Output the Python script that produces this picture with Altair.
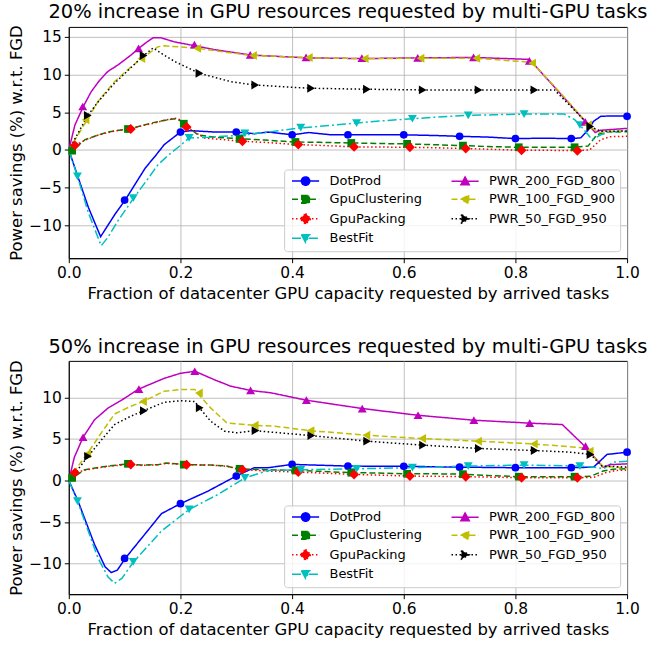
import altair as alt
import pandas as pd

# ---------------- series definitions ----------------
SERIES = ["DotProd", "GpuClustering", "GpuPacking", "BestFit",
          "PWR_200_FGD_800", "PWR_100_FGD_900", "PWR_50_FGD_950"]
COLORS = ["#0000ff", "#008000", "#ff0000", "#00bfbf", "#bf00bf", "#bfbf00", "#000000"]
DASHES = [[1, 0], [6, 3], [1.5, 2.5], [9, 3, 2, 3], [1, 0], [6, 3], [1.5, 2.5]]
SHAPES = ["circle", "square", "diamond", "triangle-down", "triangle-up", "triangle-left", "triangle-right"]
SIZES = [60, 60, 100, 80, 80, 80, 80]
LEG_PATHS = [
    "M-3.4,0H3.4M-1.05,0A1.05,1.05,0,1,1,1.05,0A1.05,1.05,0,1,1,-1.05,0Z",
    "M-3.4,0H3.4M-0.95,-0.95H0.95V0.95H-0.95Z",
    "M-3.4,0H3.4M0,-1.35L1.35,0L0,1.35L-1.35,0Z",
    "M-3.4,0H3.4M-1.05,-0.9H1.05L0,1.05Z",
    "M-3.4,0H3.4M-1.05,0.9H1.05L0,-1.05Z",
    "M-3.4,0H3.4M0.9,-1.05V1.05L-1.05,0Z",
    "M-3.4,0H3.4M-0.9,-1.05V1.05L1.05,0Z",
]

X_TICKS = [0.0, 0.2, 0.4, 0.6, 0.8, 1.0]
TOP_Y_TICKS = [-10, -5, 0, 5, 10, 15]
BOT_Y_TICKS = [-10, -5, 0, 5, 10]
TOP_Y_DOMAIN = [-14.35, 16.3]
BOT_Y_DOMAIN = [-13.7, 14.4]
TOP_TITLE = "20% increase in GPU resources requested by multi-GPU tasks"
BOT_TITLE = "50% increase in GPU resources requested by multi-GPU tasks"
X_TITLE = "Fraction of datacenter GPU capacity requested by arrived tasks"
Y_TITLE = "Power savings (%) w.r.t. FGD"

# ---------------- top panel: curves ----------------
T_DOT_X = [0, 0.017, 0.035, 0.057, 0.07, 0.083, 0.101, 0.12, 0.137, 0.155, 0.171, 0.2, 0.219, 0.261, 0.3, 0.333, 0.357, 0.4, 0.43, 0.47, 0.5, 0.548, 0.6, 0.66, 0.7, 0.75, 0.8, 0.85, 0.9, 0.917, 0.93, 0.94, 0.953, 0.97, 1.0]
T_DOT_Y = [0, -3.7, -7.6, -11.5, -10.0, -8.5, -6.65, -4.4, -2.4, -0.8, 0.7, 2.37, 2.55, 2.37, 2.37, 2.15, 2.37, 2.0, 2.3, 2.0, 2.0, 2.0, 2.0, 1.9, 1.8, 1.7, 1.5, 1.55, 1.5, 1.6, 2.6, 3.8, 4.45, 4.5, 4.5]
T_GCL_X = [0, 0.006, 0.029, 0.05, 0.07, 0.09, 0.106, 0.13, 0.148, 0.17, 0.19, 0.203, 0.208, 0.231, 0.262, 0.302, 0.35, 0.405, 0.45, 0.505, 0.55, 0.604, 0.65, 0.705, 0.75, 0.805, 0.85, 0.905, 0.93, 0.946, 0.96, 1.0]
T_GCL_Y = [0, -0.1, 1.36, 1.9, 2.37, 2.6, 2.77, 3.2, 3.56, 3.9, 4.13, 3.77, 3.47, 2.0, 1.67, 1.5, 1.3, 1.05, 1.0, 0.92, 0.85, 0.8, 0.7, 0.57, 0.45, 0.35, 0.35, 0.35, 0.5, 2.0, 2.37, 2.4]
T_GPK_X = [0, 0.011, 0.03, 0.05, 0.07, 0.09, 0.112, 0.13, 0.15, 0.17, 0.19, 0.2, 0.211, 0.243, 0.27, 0.311, 0.35, 0.411, 0.45, 0.511, 0.55, 0.61, 0.65, 0.711, 0.75, 0.812, 0.85, 0.911, 0.933, 0.953, 0.97, 1.0]
T_GPK_Y = [0, 0.6, 1.3, 1.9, 2.3, 2.6, 2.77, 3.2, 3.5, 3.9, 4.2, 4.0, 3.03, 1.58, 1.4, 1.14, 1.0, 0.7, 0.6, 0.4, 0.38, 0.35, 0.3, 0.17, 0.1, -0.05, -0.05, -0.1, 0.0, 1.36, 1.75, 1.8]
T_BF_X = [0, 0.0155, 0.035, 0.058, 0.07, 0.088, 0.116, 0.14, 0.16, 0.18, 0.196, 0.2155, 0.25, 0.277, 0.314, 0.35, 0.414, 0.46, 0.515, 0.56, 0.616, 0.66, 0.714, 0.76, 0.8155, 0.8875, 0.906, 0.9155, 0.9375, 0.953, 0.97, 1.0]
T_BF_Y = [0, -3.5, -8.3, -12.7, -11.6, -9.4, -6.4, -4.0, -1.94, -0.6, 0.35, 1.58, 1.67, 1.8, 2.0, 2.3, 2.9, 3.2, 3.56, 3.85, 4.13, 4.35, 4.57, 4.65, 4.75, 4.75, 4.0, 3.3, 1.36, 2.0, 2.4, 2.5]
T_P200_X = [0, 0.011, 0.026, 0.04, 0.055, 0.07, 0.088, 0.112, 0.125, 0.14, 0.151, 0.165, 0.19, 0.226, 0.26, 0.326, 0.4256, 0.5277, 0.6287, 0.726, 0.8227, 0.83, 0.88, 0.943, 0.952, 1.0]
T_P200_Y = [0, 3.3, 5.75, 7.7, 9.2, 10.4, 11.25, 12.6, 13.45, 14.3, 14.86, 14.86, 14.3, 13.8, 13.3, 12.57, 12.2, 12.1, 12.2, 12.25, 12.0, 11.6, 7.5, 2.3, 2.6, 2.85]
T_P100_X = [0, 0.015, 0.033, 0.052, 0.082, 0.11, 0.13, 0.16, 0.171, 0.231, 0.32, 0.43, 0.53, 0.63, 0.73, 0.83, 0.88, 0.935, 0.95, 1.0]
T_P100_Y = [0, 1.8, 4.0, 6.4, 9.05, 10.9, 12.1, 13.67, 13.8, 13.45, 12.57, 12.2, 12.1, 12.15, 12.15, 11.6, 7.6, 3.0, 2.3, 2.6]
T_P50_X = [0, 0.015, 0.034, 0.055, 0.082, 0.11, 0.134, 0.151, 0.17, 0.19, 0.234, 0.29, 0.332, 0.4286, 0.53, 0.63, 0.735, 0.8335, 0.87, 0.9345, 0.953, 1.0]
T_P50_Y = [0, 2.0, 4.57, 6.6, 8.84, 10.8, 12.5, 13.5, 12.6, 11.7, 10.15, 9.05, 8.6, 8.18, 8.04, 7.95, 7.95, 7.95, 7.95, 3.1, 2.46, 2.5]

# ---------------- top panel: markers ----------------
T_DOT_MX = [0.1, 0.2, 0.3, 0.4, 0.5, 0.6, 0.7, 0.8, 0.9, 1.0]
T_DOT_MY = [-6.65, 2.37, 2.37, 2.0, 2.0, 2.0, 1.8, 1.5, 1.5, 4.45]
T_GCL_MX = [0.006, 0.106, 0.206, 0.306, 0.406, 0.506, 0.606, 0.706, 0.806, 0.906]
T_GCL_MY = [-0.1, 2.77, 3.47, 1.45, 1.05, 0.92, 0.8, 0.57, 0.35, 0.35]
T_GPK_MX = [0.011, 0.111, 0.211, 0.311, 0.411, 0.511, 0.611, 0.711, 0.811, 0.911]
T_GPK_MY = [0.6, 2.77, 3.03, 1.14, 0.7, 0.4, 0.35, 0.17, -0.05, -0.1]
T_BF_MX = [0.0155, 0.1155, 0.2155, 0.3155, 0.4155, 0.5155, 0.6155, 0.7155, 0.8155, 0.9155]
T_BF_MY = [-3.5, -6.4, 1.58, 2.2, 2.95, 3.56, 4.13, 4.57, 4.75, 3.3]
T_P200_MX = [0.025, 0.125, 0.225, 0.325, 0.425, 0.525, 0.625, 0.725, 0.825, 0.925]
T_P200_MY = [5.75, 13.45, 13.95, 12.6, 12.25, 12.15, 12.2, 12.25, 11.8, 3.7]
T_P100_MX = [0.03, 0.13, 0.23, 0.33, 0.43, 0.53, 0.63, 0.73, 0.83, 0.93]
T_P100_MY = [4.0, 12.1, 13.45, 12.5, 12.25, 12.1, 12.15, 12.15, 11.5, 3.3]
T_P50_MX = [0.034, 0.134, 0.234, 0.334, 0.434, 0.534, 0.634, 0.734, 0.834, 0.934]
T_P50_MY = [4.57, 12.5, 10.15, 8.6, 8.18, 8.04, 7.95, 7.95, 7.95, 3.1]

# ---------------- bottom panel: curves ----------------
B_DOT_X = [0, 0.0166, 0.046, 0.065, 0.076, 0.087, 0.101, 0.136, 0.166, 0.2, 0.249, 0.3, 0.332, 0.357, 0.4, 0.5, 0.6, 0.7, 0.8, 0.9, 0.94, 0.964, 1.0]
B_DOT_Y = [0, -2.5, -7.7, -10.4, -11.1, -10.8, -9.4, -6.5, -4.0, -2.8, -1.3, 0.53, 1.53, 1.53, 1.93, 1.73, 1.7, 1.6, 1.53, 1.53, 1.6, 3.13, 3.4]
B_GCL_X = [0, 0.006, 0.029, 0.07, 0.106, 0.13, 0.16, 0.175, 0.208, 0.254, 0.283, 0.3, 0.35, 0.405, 0.45, 0.505, 0.55, 0.605, 0.65, 0.705, 0.75, 0.805, 0.85, 0.905, 0.935, 0.957, 0.975, 1.0]
B_GCL_Y = [0, 0.3, 1.3, 1.73, 2.0, 1.85, 1.9, 2.1, 1.9, 1.85, 1.73, 1.4, 1.3, 1.2, 1.1, 0.93, 0.9, 0.8, 0.8, 0.75, 0.6, 0.45, 0.45, 0.45, 0.5, 1.13, 1.35, 1.4]
B_GPK_X = [0, 0.011, 0.03, 0.07, 0.111, 0.13, 0.16, 0.175, 0.211, 0.254, 0.283, 0.311, 0.35, 0.411, 0.45, 0.511, 0.55, 0.61, 0.65, 0.71, 0.75, 0.81, 0.85, 0.91, 0.94, 0.96, 0.98, 1.0]
B_GPK_Y = [0, 0.93, 1.25, 1.7, 1.93, 1.8, 1.9, 2.05, 1.9, 1.85, 1.7, 1.3, 1.15, 1.0, 0.9, 0.72, 0.65, 0.53, 0.5, 0.45, 0.4, 0.33, 0.33, 0.33, 0.35, 0.9, 1.2, 1.25]
B_BF_X = [0, 0.0155, 0.052, 0.07, 0.082, 0.095, 0.116, 0.166, 0.2155, 0.267, 0.3155, 0.357, 0.4155, 0.5155, 0.6155, 0.7155, 0.8155, 0.9155, 0.946, 0.958, 0.975, 1.0]
B_BF_Y = [0, -2.5, -9.3, -11.6, -12.4, -11.8, -9.8, -6.1, -3.5, -1.7, 0.3, 1.2, 1.28, 1.4, 1.53, 1.73, 1.85, 1.73, 1.55, 1.4, 2.2, 2.3]
B_P200_X = [0, 0.01, 0.0256, 0.046, 0.07, 0.1, 0.125, 0.171, 0.2, 0.226, 0.26, 0.29, 0.325, 0.363, 0.4256, 0.527, 0.625, 0.726, 0.826, 0.884, 0.924, 0.957, 0.97, 1.0]
B_P200_Y = [0, 2.8, 5.2, 7.3, 8.7, 9.9, 11.0, 12.3, 12.9, 13.15, 12.15, 11.35, 10.85, 10.54, 9.66, 8.65, 7.85, 7.25, 6.9, 6.73, 4.13, 1.6, 1.9, 2.0]
B_P100_X = [0, 0.012, 0.033, 0.06, 0.082, 0.11, 0.133, 0.171, 0.2, 0.226, 0.23, 0.254, 0.283, 0.33, 0.369, 0.431, 0.5327, 0.63, 0.732, 0.832, 0.921, 0.93, 0.957, 1.0]
B_P100_Y = [0, 1.3, 3.2, 5.9, 8.0, 8.9, 9.5, 10.75, 10.94, 10.94, 10.54, 8.74, 6.93, 6.65, 6.53, 6.0, 5.45, 5.05, 4.73, 4.4, 3.93, 3.53, 1.7, 1.5]
B_P50_X = [0, 0.015, 0.0345, 0.06, 0.082, 0.11, 0.134, 0.171, 0.2, 0.226, 0.234, 0.254, 0.279, 0.302, 0.332, 0.4345, 0.533, 0.634, 0.735, 0.8345, 0.9, 0.9345, 0.955, 1.0]
B_P50_Y = [0, 1.2, 2.9, 5.0, 6.73, 7.7, 8.4, 9.42, 9.6, 9.5, 8.74, 7.14, 5.93, 5.73, 6.0, 5.4, 4.73, 4.25, 3.85, 3.6, 3.4, 3.13, 1.73, 1.6]

# ---------------- bottom panel: markers ----------------
B_DOT_MX = [0.1, 0.2, 0.3, 0.4, 0.5, 0.6, 0.7, 0.8, 0.9, 1.0]
B_DOT_MY = [-9.4, -2.8, 0.53, 1.93, 1.73, 1.7, 1.6, 1.53, 1.53, 3.4]
B_GCL_MX = [0.006, 0.106, 0.206, 0.306, 0.406, 0.506, 0.606, 0.706, 0.806, 0.906]
B_GCL_MY = [0.3, 2.0, 1.9, 1.4, 1.2, 0.93, 0.8, 0.75, 0.45, 0.45]
B_GPK_MX = [0.011, 0.111, 0.211, 0.311, 0.411, 0.511, 0.611, 0.711, 0.811, 0.911]
B_GPK_MY = [0.93, 1.93, 1.9, 1.3, 1.0, 0.72, 0.53, 0.45, 0.33, 0.33]
B_BF_MX = [0.0155, 0.1155, 0.2155, 0.3155, 0.4155, 0.5155, 0.6155, 0.7155, 0.8155, 0.9155]
B_BF_MY = [-2.5, -9.8, -3.5, 0.3, 1.28, 1.4, 1.53, 1.73, 1.85, 1.73]
B_P200_MX = [0.0256, 0.1256, 0.2256, 0.3256, 0.4256, 0.5256, 0.6256, 0.7256, 0.8256, 0.9256]
B_P200_MY = [5.2, 11.0, 13.15, 10.85, 9.66, 8.65, 7.85, 7.25, 6.9, 4.13]
B_P100_MX = [0.033, 0.133, 0.233, 0.333, 0.433, 0.533, 0.633, 0.733, 0.833, 0.933]
B_P100_MY = [3.2, 9.5, 10.54, 6.65, 6.0, 5.45, 5.05, 4.73, 4.4, 3.53]
B_P50_MX = [0.0345, 0.1345, 0.2345, 0.3345, 0.4345, 0.5345, 0.6345, 0.7345, 0.8345, 0.9345]
B_P50_MY = [2.9, 8.4, 8.74, 6.0, 5.4, 4.73, 4.25, 3.85, 3.6, 3.13]


def to_df(spec):
    rows = []
    for name, xs, ys in spec:
        for a, b in zip(xs, ys):
            rows.append({"series": name, "x": a, "y": b})
    return pd.DataFrame(rows)


top_lines = to_df([
    ("DotProd", T_DOT_X, T_DOT_Y), ("GpuClustering", T_GCL_X, T_GCL_Y),
    ("GpuPacking", T_GPK_X, T_GPK_Y), ("BestFit", T_BF_X, T_BF_Y),
    ("PWR_200_FGD_800", T_P200_X, T_P200_Y), ("PWR_100_FGD_900", T_P100_X, T_P100_Y),
    ("PWR_50_FGD_950", T_P50_X, T_P50_Y)])
top_marks = to_df([
    ("DotProd", T_DOT_MX, T_DOT_MY), ("GpuClustering", T_GCL_MX, T_GCL_MY),
    ("GpuPacking", T_GPK_MX, T_GPK_MY), ("BestFit", T_BF_MX, T_BF_MY),
    ("PWR_200_FGD_800", T_P200_MX, T_P200_MY), ("PWR_100_FGD_900", T_P100_MX, T_P100_MY),
    ("PWR_50_FGD_950", T_P50_MX, T_P50_MY)])
bot_lines = to_df([
    ("DotProd", B_DOT_X, B_DOT_Y), ("GpuClustering", B_GCL_X, B_GCL_Y),
    ("GpuPacking", B_GPK_X, B_GPK_Y), ("BestFit", B_BF_X, B_BF_Y),
    ("PWR_200_FGD_800", B_P200_X, B_P200_Y), ("PWR_100_FGD_900", B_P100_X, B_P100_Y),
    ("PWR_50_FGD_950", B_P50_X, B_P50_Y)])
bot_marks = to_df([
    ("DotProd", B_DOT_MX, B_DOT_MY), ("GpuClustering", B_GCL_MX, B_GCL_MY),
    ("GpuPacking", B_GPK_MX, B_GPK_MY), ("BestFit", B_BF_MX, B_BF_MY),
    ("PWR_200_FGD_800", B_P200_MX, B_P200_MY), ("PWR_100_FGD_900", B_P100_MX, B_P100_MY),
    ("PWR_50_FGD_950", B_P50_MX, B_P50_MY)])

color_scale = alt.Scale(domain=SERIES, range=COLORS)
dash_scale = alt.Scale(domain=SERIES, range=DASHES)
path_scale = alt.Scale(domain=SERIES, range=LEG_PATHS)

LEG = alt.Legend(title=None, orient="bottom-right", offset=7, columns=2,
                 symbolSize=64, symbolStrokeWidth=1.5, symbolOffset=10,
                 labelOffset=17.5, labelFontSize=13, labelFont="DejaVu Sans",
                 labelColor="black", labelLimit=0, rowPadding=3.5, columnPadding=25,
                 padding=5, fillColor="rgba(255,255,255,0.8)", strokeColor="#cccccc",
                 cornerRadius=3)


def panel(ldf, mdf, title, ydom, yticks, h):
    xenc = alt.X("x:Q", scale=alt.Scale(domain=[0, 1], nice=False, zero=False),
                 axis=alt.Axis(values=X_TICKS, format=".1f", title=X_TITLE,
                               labelFlush=False))
    yenc = alt.Y("y:Q", scale=alt.Scale(domain=ydom, nice=False, zero=False),
                 axis=alt.Axis(values=yticks, title=Y_TITLE, labelFlush=False))
    layers = []
    for s, col, dash in zip(SERIES, COLORS, DASHES):
        layers.append(
            alt.Chart(ldf).transform_filter(alt.datum.series == s)
            .mark_line(strokeWidth=1.5, clip=True, color=col, strokeDash=dash)
            .encode(x=xenc, y=yenc)
        )
    for s, col, shp, sz in zip(SERIES, COLORS, SHAPES, SIZES):
        layers.append(
            alt.Chart(mdf).transform_filter(alt.datum.series == s)
            .mark_point(filled=True, shape=shp, size=sz, opacity=1, color=col)
            .encode(x=xenc, y=yenc)
        )
    legend_layer = (
        alt.Chart(mdf).transform_filter("false")
        .mark_point(filled=True, opacity=1, strokeWidth=1.5)
        .encode(x=xenc, y=yenc,
                color=alt.Color("series:N", scale=color_scale, legend=LEG),
                stroke=alt.Stroke("series:N", scale=color_scale, legend=LEG),
                shape=alt.Shape("series:N", scale=path_scale, legend=LEG),
                strokeDash=alt.StrokeDash("series:N", scale=dash_scale, legend=LEG))
    )
    layers.append(legend_layer)
    return alt.layer(*layers).properties(width=560, height=h, title=title)


top = panel(top_lines, top_marks, TOP_TITLE, TOP_Y_DOMAIN, TOP_Y_TICKS, 232)
bot = panel(bot_lines, bot_marks, BOT_TITLE, BOT_Y_DOMAIN, BOT_Y_TICKS, 234)

chart = (
    alt.vconcat(top, bot, spacing=103, bounds="flush")
    .resolve_legend(color="independent", stroke="independent",
                    shape="independent", strokeDash="independent")
    .properties(padding={"left": 8, "top": 0, "right": 5, "bottom": 2})
    .configure_view(stroke="black", strokeWidth=1)
    .configure_axis(labelFont="DejaVu Sans", titleFont="DejaVu Sans",
                    labelFontSize=15.5, titleFontSize=16.5, labelColor="black",
                    titleColor="black", titleFontWeight="normal",
                    tickColor="black", domainColor="black", tickSize=4.5,
                    gridColor="#b0b0b0", gridWidth=0.8, labelPadding=3,
                    titlePadding=4)
    .configure_title(font="DejaVu Sans", fontSize=19.5, fontWeight="normal",
                     color="black", anchor="middle", offset=2)
)

chart.save("out.html", embed_options={"renderer": "svg", "actions": False})
